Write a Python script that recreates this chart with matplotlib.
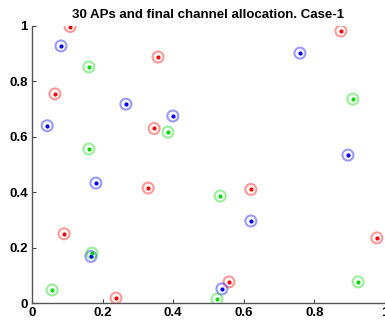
import matplotlib
matplotlib.use("Agg")
from matplotlib import pyplot as plt

# AP positions grouped by the channel they ended up on
red_x = [0.108, 0.065, 0.357, 0.346, 0.875, 0.329, 0.091, 0.238, 0.620, 0.977, 0.558]
red_y = [0.998, 0.755, 0.888, 0.630, 0.982, 0.415, 0.250, 0.018, 0.410, 0.235, 0.076]

blue_x = [0.082, 0.043, 0.266, 0.399, 0.759, 0.895, 0.181, 0.167, 0.620, 0.538]
blue_y = [0.928, 0.640, 0.718, 0.675, 0.902, 0.534, 0.433, 0.168, 0.296, 0.051]

green_x = [0.161, 0.161, 0.385, 0.909, 0.170, 0.057, 0.533, 0.924, 0.524]
green_y = [0.852, 0.556, 0.617, 0.736, 0.180, 0.047, 0.386, 0.076, 0.014]

ticks = [0, 0.2, 0.4, 0.6, 0.8, 1]
tick_labels = ["0", "0.2", "0.4", "0.6", "0.8", "1"]

plt.rcParams['font.family'] = ['Liberation Sans', 'DejaVu Sans']

fig = plt.figure(figsize=(3.85, 3.24), dpi=100)
ax = fig.add_axes([32 / 385, 21 / 324, 353 / 385, 277 / 324])

for xs, ys, c in [(red_x, red_y, (1, 0, 0)),
                  (blue_x, blue_y, (0, 0, 1)),
                  (green_x, green_y, (0, 0.85, 0))]:
    ax.scatter(xs, ys, s=62, facecolors='none', edgecolors=[c + (0.4,)],
               linewidths=1.5, zorder=2)
    ax.scatter(xs, ys, s=4, color=c, zorder=3)

ax.set_xlim(0, 1)
ax.set_ylim(0, 1)
ax.set_xticks(ticks)
ax.set_xticklabels(tick_labels, fontweight='bold', fontsize=9.5)
ax.set_yticks(ticks)
ax.set_yticklabels(tick_labels, fontweight='bold', fontsize=9.5)
ax.tick_params(direction='in', length=3, width=0.8, color='#444444', pad=3)
ax.spines['top'].set_visible(False)
ax.spines['right'].set_visible(False)
for s in ('left', 'bottom'):
    ax.spines[s].set_color('#555555')
    ax.spines[s].set_linewidth(1.0)

ax.set_title("30 APs and final channel allocation. Case-1", fontweight='bold',
             fontsize=9.5, pad=6)

fig.savefig("out.png", dpi=100)
